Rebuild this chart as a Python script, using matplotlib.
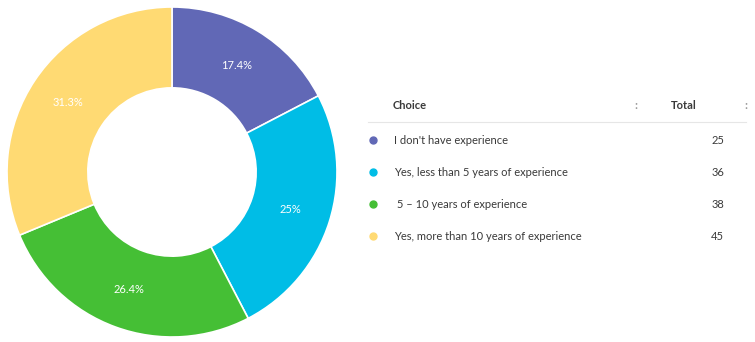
import matplotlib.pyplot as plt
from matplotlib.lines import Line2D

plt.rcParams['font.family'] = ['Lato', 'DejaVu Sans']

# --- data ---
choices = ["I don't have experience",
           "Yes, less than 5 years of experience",
           " 5 \u2013 10 years of experience",
           "Yes, more than 10 years of experience"]
totals = [25, 36, 38, 45]
colors = ['#6168b6', '#00bde6', '#45bf35', '#ffda73']

W, H = 755, 342
fig = plt.figure(figsize=(W / 100, H / 100), dpi=100)


def fx(x):
    return x / W


def fy(y):
    return 1 - y / H


def fmt_pct(p):
    # round half up, drop a trailing .0
    s = f'{p + 1e-6:.1f}'
    if s.endswith('.0'):
        s = s[:-2]
    return s + '%'


# --- donut ---
cx, cy, r = 172, 172, 165
ax = fig.add_axes([fx(cx - r), fy(cy + r), fx(2 * r), (2 * r) / H])
wedges, texts, autotexts = ax.pie(
    totals, colors=colors, startangle=90, counterclock=False,
    autopct=fmt_pct, pctdistance=0.755,
    wedgeprops=dict(width=0.49, edgecolor='white', linewidth=1.2),
    textprops=dict(color='white', fontsize=8))
ax.set_xlim(-1, 1)
ax.set_ylim(-1, 1)
ax.set_aspect('equal')

# --- table ---
txt_color = '#3a3a3a'
fs = 8
fig.text(fx(393), fy(106), 'Choice', fontsize=fs, fontweight='bold',
         color=txt_color, va='center', ha='left')
fig.text(fx(697), fy(106), 'Total', fontsize=fs, fontweight='bold',
         color=txt_color, va='center', ha='right')
for sx in (636, 746):
    fig.text(fx(sx), fy(106), ':', fontsize=8.5, color='#9a9a9a',
             va='center', ha='center', fontweight='bold')
fig.add_artist(Line2D([fx(368), fx(746)], [fy(122), fy(122)],
                      color='#e6e6e6', linewidth=0.8))

row_y = [140, 172, 204, 236]
for name, total, col, y in zip(choices, totals, colors, row_y):
    fig.add_artist(Line2D([fx(373)], [fy(y)], marker='o', markersize=5,
                          color=col, linestyle=''))
    fig.text(fx(394), fy(y), name, fontsize=fs, color=txt_color,
             va='center', ha='left')
    fig.text(fx(724), fy(y), str(total), fontsize=fs, color=txt_color,
             va='center', ha='right')

fig.savefig('out.png', dpi=100, facecolor='white')
